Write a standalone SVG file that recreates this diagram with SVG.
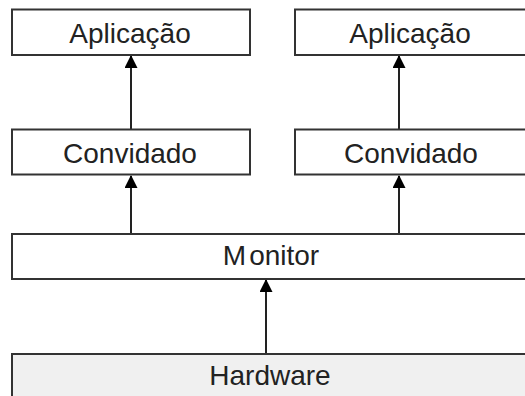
<svg xmlns="http://www.w3.org/2000/svg" width="525" height="396" viewBox="0 0 525 396">
  <style>
    .box { fill: #ffffff; stroke: #333333; stroke-width: 2; }
    .hw { fill: #f0f0f0; stroke: #333333; stroke-width: 2; }
    .lbl { font-family: "Liberation Sans", Arial, sans-serif; font-size: 28px; fill: #222222; text-anchor: middle; }
    .edge { stroke: #222222; stroke-width: 2; fill: none; marker-end: url(#arrow); }
  </style>
  <defs>
    <!-- solid triangular head, tip at the end of the line -->
    <marker id="arrow" viewBox="0 0 13 13" refX="12" refY="6.5" markerWidth="13" markerHeight="13" markerUnits="userSpaceOnUse" orient="auto">
      <path d="M0,0 L13,6.5 L0,13 Z" fill="#000000"/>
    </marker>
  </defs>

  <rect width="525" height="396" fill="#ffffff"/>

  <!-- connectors, drawn from each lower layer up to the one it supports -->
  <g id="connectors">
    <path class="edge" d="M131 129 V56"/>
    <path class="edge" d="M399 129 V56"/>
    <path class="edge" d="M131 234 V176"/>
    <path class="edge" d="M399 234 V176"/>
    <path class="edge" d="M266 354 V280"/>
  </g>

  <g id="app-left">
    <rect class="box" x="12" y="9.5" width="238" height="45.5"/>
    <text class="lbl" x="130" y="43">Aplicação</text>
  </g>
  <g id="app-right">
    <rect class="box" x="295" y="9.5" width="240" height="45.5"/>
    <text class="lbl" x="410" y="43">Aplicação</text>
  </g>
  <g id="guest-left">
    <rect class="box" x="12" y="129.5" width="238" height="45"/>
    <text class="lbl" x="130" y="163">Convidado</text>
  </g>
  <g id="guest-right">
    <rect class="box" x="295" y="129.5" width="240" height="45"/>
    <text class="lbl" x="411" y="163">Convidado</text>
  </g>
  <g id="monitor">
    <rect class="box" x="12" y="234" width="530" height="45"/>
    <text class="lbl" x="271" y="265">M<tspan dx="3">onitor</tspan></text>
  </g>
  <g id="hardware">
    <rect class="hw" x="12" y="354" width="530" height="60"/>
    <text class="lbl" x="270" y="385">Hardware</text>
  </g>
</svg>
